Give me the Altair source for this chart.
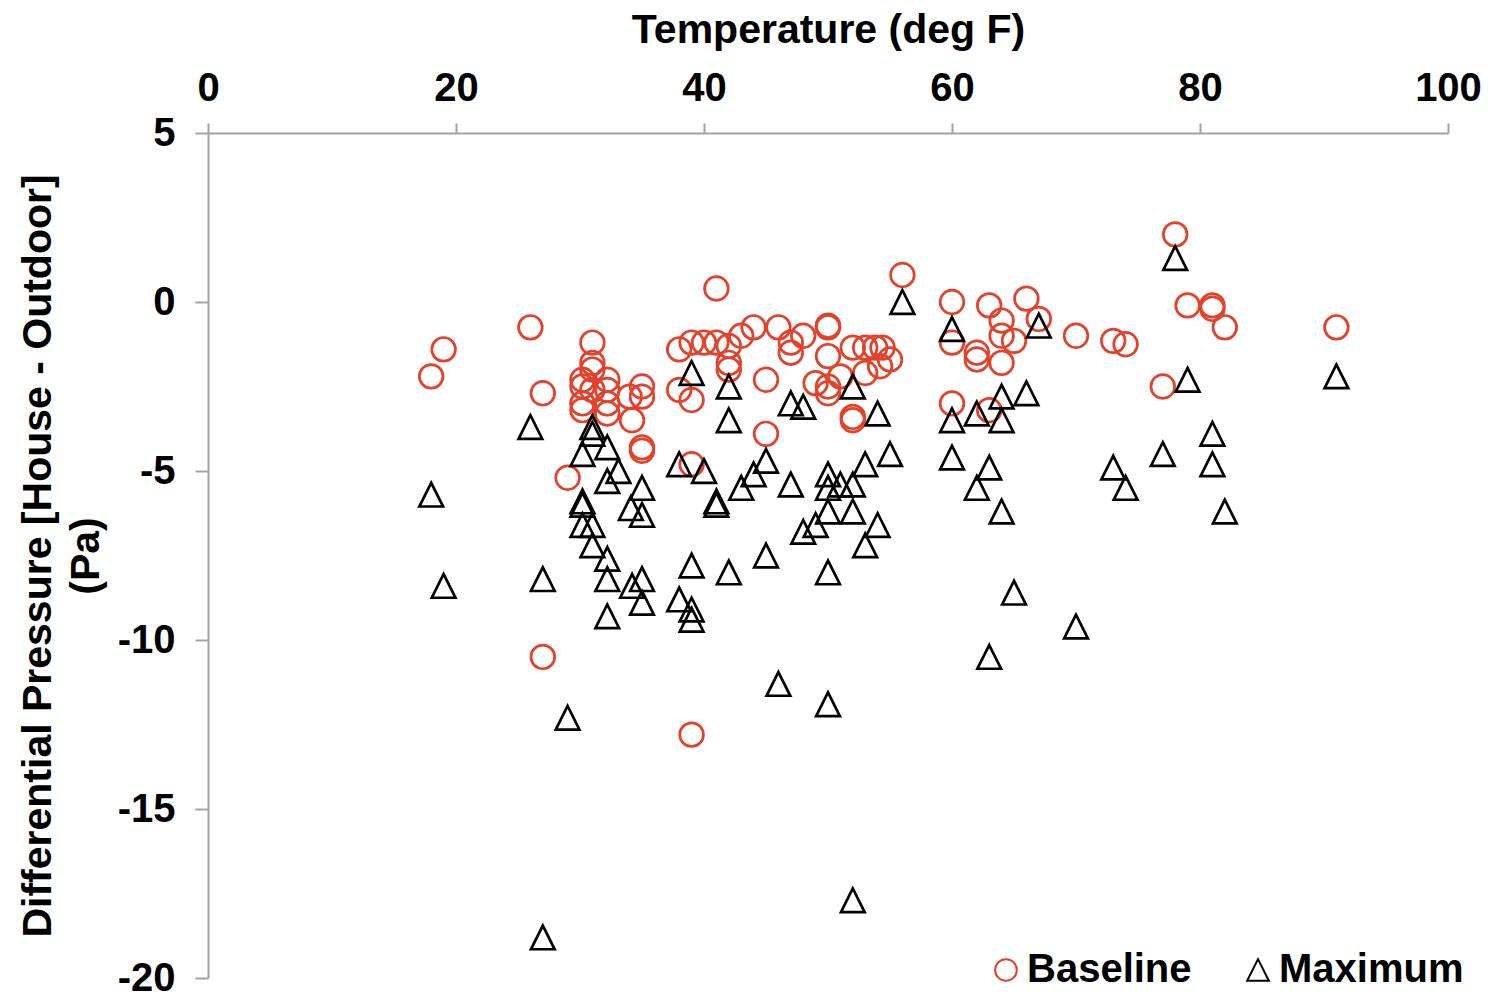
import altair as alt
import pandas as pd

# Baseline series (temperature deg F, differential pressure Pa)
base_temp = [18, 19, 26, 27, 27, 29, 30.2, 30.2, 30.2, 30.2,
             31, 31, 31, 31, 32.2, 32.2, 32.2, 32.2, 34, 34.2,
             35, 35, 35, 35, 38, 38, 39, 39, 39, 39,
             40, 41, 41, 42, 42, 42, 43, 44, 45, 45,
             46, 47, 47, 48, 49, 50, 50, 50, 50, 50,
             51, 52, 52, 52, 53, 53, 53.8, 54.2, 54.4, 55,
             56, 60, 60, 60, 62, 62, 63, 63, 64, 64,
             64, 65, 66, 67, 70, 73, 74, 77, 78, 79,
             81, 81, 82, 91]
base_dp = [-2.2, -1.4, -0.75, -2.7, -10.5, -5.2, -2.3, -2.5, -3.0, -3.2,
           -1.2, -1.8, -2.0, -2.6, -2.3, -2.6, -3.0, -3.3, -2.8, -3.5,
           -2.5, -2.8, -4.3, -4.4, -1.4, -2.6, -1.2, -2.9, -4.8, -12.8,
           -1.2, -1.2, 0.4, -1.3, -1.8, -2.0, -1.0, -0.75, -2.3, -3.9,
           -0.75, -1.2, -1.5, -1.0, -2.4, -0.75, -0.7, -1.6, -2.5, -2.7,
           -2.2, -1.35, -3.4, -3.5, -1.35, -2.1, -1.35, -1.9, -1.35, -1.7,
           0.8, 0.0, -1.2, -3.0, -1.5, -1.7, -0.1, -3.2, -0.55, -1.0,
           -1.8, -1.15, 0.1, -0.5, -1.0, -1.15, -1.25, -2.5, 2.0, -0.1,
           -0.1, -0.2, -0.75, -0.75]

# Maximum series
max_temp = [18, 19, 26, 27, 27, 29, 30.2, 30.2, 30.2, 30.2,
            31, 31, 31, 31, 32.2, 32.2, 32.2, 32.2, 32.2, 33.1,
            34.1, 34.2, 35, 35, 35, 35, 38, 38, 39, 39,
            39, 39, 40, 41, 41, 42, 42, 42, 43, 44,
            45, 45, 46, 47, 47, 48, 48, 49, 50, 50,
            50, 50, 50, 51, 52, 52, 52, 52, 53, 53,
            54, 54, 55, 56, 60, 60, 60, 62, 62, 63,
            63, 64, 64, 64, 65, 66, 67, 70, 73, 74,
            77, 78, 79, 81, 81, 82, 91]
max_dp = [-5.7, -8.4, -3.7, -8.2, -18.8, -12.3, -4.5, -5.9, -6.0, -6.6,
          -3.7, -3.9, -6.6, -7.2, -4.3, -5.3, -7.6, -8.2, -9.3, -5.0,
          -6.1, -8.4, -5.5, -6.3, -8.2, -8.9, -4.8, -8.8, -2.1, -7.8,
          -9.1, -9.4, -5.0, -5.9, -6.0, -2.5, -3.5, -8.0, -5.5, -5.1,
          -4.7, -7.5, -11.3, -3.0, -5.4, -3.1, -6.8, -6.6, -5.1, -5.5,
          -6.2, -8.0, -11.9, -5.4, -2.5, -5.4, -6.2, -17.7, -4.8, -7.2,
          -3.3, -6.6, -4.5, 0.0, -0.8, -3.5, -4.6, -3.3, -5.5, -4.9,
          -10.5, -2.8, -3.5, -6.2, -8.6, -2.7, -0.7, -9.6, -4.9, -5.5,
          -4.5, 1.3, -2.3, -3.9, -4.8, -6.2, -2.2]

series_names = ["Baseline", "Maximum"]
x_ticks = [0, 20, 40, 60, 80, 100]
y_ticks = [5, 0, -5, -10, -15, -20]

df = pd.DataFrame({
    "Temperature": base_temp + max_temp,
    "DP": base_dp + max_dp,
    "Series": [series_names[0]] * len(base_temp) + [series_names[1]] * len(max_temp),
    "ord": list(range(len(base_temp) + len(max_temp))),
})

FONT = "Liberation Sans"
AXIS_GRAY = "#a3a3a3"
TRI = "M0,-1L-1,1L1,1Z"

legend = alt.Legend(
    title=None,
    orient="none",
    direction="horizontal",
    legendX=778,
    legendY=817,
    labelFont=FONT,
    labelFontWeight="bold",
    labelFontSize=40,
    labelColor="black",
    labelOffset=1,
    labelLimit=0,
    columnPadding=46,
    symbolSize=470,
    symbolStrokeWidth=2,
    padding=0,
)

chart = alt.Chart(df).mark_point(
    filled=False, strokeWidth=2.7, size=560, opacity=1
).encode(
    x=alt.X(
        "Temperature:Q",
        scale=alt.Scale(domain=[0, 100], nice=False, zero=False),
        axis=alt.Axis(
            orient="top",
            values=x_ticks,
            title="Temperature (deg F)",
            grid=False,
            domainColor=AXIS_GRAY,
            domainWidth=2,
            tickColor=AXIS_GRAY,
            tickWidth=2,
            tickSize=10,
            labelFont=FONT,
            labelFontWeight="bold",
            labelFontSize=40,
            labelColor="black",
            labelPadding=15,
            labelFlush=False,
            labelOverlap=False,
            titleFont=FONT,
            titleFontWeight="bold",
            titleFontSize=41,
            titleColor="black",
            titlePadding=17,
        ),
    ),
    y=alt.Y(
        "DP:Q",
        scale=alt.Scale(domain=[-20, 5], nice=False, zero=False),
        axis=alt.Axis(
            values=y_ticks,
            labelExpr="datum.value + ''",
            title=["Differential Pressure [House - Outdoor]", "(Pa)"],
            grid=False,
            domainColor=AXIS_GRAY,
            domainWidth=2,
            tickColor=AXIS_GRAY,
            tickWidth=2,
            tickSize=13,
            labelFont=FONT,
            labelFontWeight="bold",
            labelFontSize=40,
            labelColor="black",
            labelPadding=20,
            labelFlush=False,
            labelOverlap=False,
            titleFont=FONT,
            titleFontWeight="bold",
            titleFontSize=41,
            titleColor="black",
            titleLineHeight=48,
            titlePadding=10,
        ),
    ),
    color=alt.Color(
        "Series:N",
        scale=alt.Scale(domain=series_names, range=["#e5402a", "#000000"]),
        legend=legend,
    ),
    shape=alt.Shape(
        "Series:N",
        scale=alt.Scale(domain=series_names, range=["circle", TRI]),
        legend=legend,
    ),
    order=alt.Order("ord:Q"),
).properties(
    width=1240,
    height=845,
    autosize=alt.AutoSizeParams(type="none"),
    padding={"left": 208, "top": 133, "right": 40, "bottom": 16},
    background="white",
).configure_view(stroke=None)

chart.save("out.html", embed_options={"renderer": "svg", "actions": False})
